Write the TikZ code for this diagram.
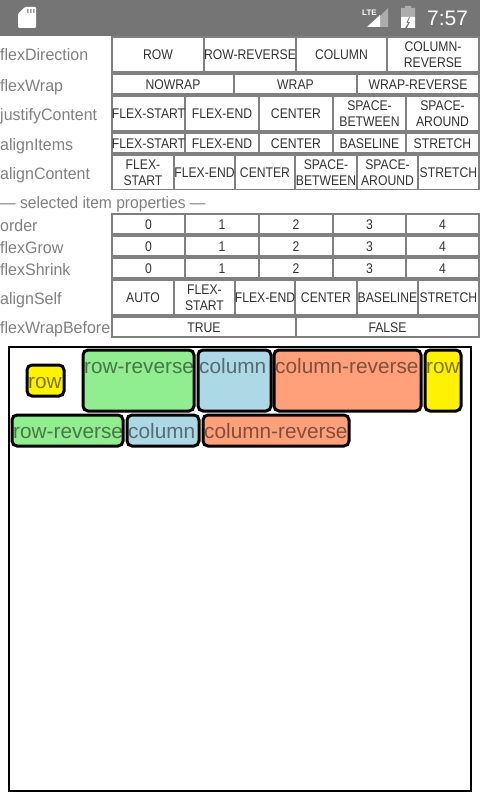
\documentclass[tikz,border=0pt]{standalone}
\usepackage{fontspec}
\setmainfont{Liberation Sans}
\newfontfamily\btnfont[FakeStretch=0.87]{Liberation Sans}
\newfontfamily\labfont[FakeStretch=0.97]{Liberation Sans}
\newfontfamily\selfont[FakeStretch=0.945]{Liberation Sans}
\definecolor{barc}{HTML}{757575}
\definecolor{gridc}{HTML}{808080}
\definecolor{labc}{HTML}{808080}
\definecolor{itemg}{HTML}{90EE90}
\definecolor{itemb}{HTML}{ADD8E6}
\definecolor{itemo}{HTML}{FFA07A}
\newcommand{\cellbox}[6]{%
  \pgfmathsetmacro{\cx}{(#3+#2)/2}\pgfmathsetmacro{\cy}{(#5+#4)/2}%
  \fill[white] (#2,#4) rectangle (#3,#5);
  \node[cellbtn] (#1) at (\cx,\cy) {#6};}
\newcommand{\flexitem}[7]{%
  \pgfmathsetmacro{\cw}{#3-#2}\pgfmathsetmacro{\ch}{#5-#4}%
  \pgfmathsetmacro{\cx}{(#3+#2)/2}\pgfmathsetmacro{\cy}{(#5+#4)/2}%
  \node[itembox,fill=#6,minimum width=\cw pt,minimum height=\ch pt] (#1) at (\cx,\cy) {};
  \node[itemtext] at (#2+1,#4+23) {#7};}
\tikzset{
  cellbtn/.style={inner sep=0pt,align=center,text=black!80,yshift=-0.6pt,
    font=\btnfont\fontsize{14}{16}\selectfont},
  rowlabel/.style={anchor=base west,inner sep=0pt,text=labc,font=\labfont\fontsize{16.5}{18}\selectfont},
  itembox/.style={draw=black,line width=3pt,rounded corners=5pt,inner sep=0pt,outer sep=0pt},
  itemtext/.style={anchor=base west,inner sep=0pt,text=black,text opacity=0.5,font=\fontsize{20.8}{22}\selectfont},
}
\begin{document}
\begin{tikzpicture}[x=1pt,y=-1pt]
\useasboundingbox (0,0) rectangle (480,800);
\fill[white] (0,0) rectangle (480,800);
% status bar
\fill[barc] (0,0) rectangle (480,36);
\fill[white,rounded corners=1pt] (18,28) -- (18,14) -- (25,7) -- (36,7) -- (36,28) -- cycle;
\fill[barc!70!white] (27,9) rectangle (28.5,13) (30,9) rectangle (31.5,13) (33,9) rectangle (34.5,13);
\node[anchor=base west,inner sep=0pt,text=white,font=\bfseries\fontsize{8}{8}\selectfont] at (362,16) {LTE};
\fill[white,opacity=0.4] (380,16) -- (388,8) -- (388,27) -- (380,27) -- cycle;
\fill[white] (367,27) -- (380,15) -- (380,27) -- cycle;
\fill[white,opacity=0.4] (401,8) -- (405,8) -- (405,6) -- (411,6) -- (411,8) -- (415,8) -- (415,17) -- (401,17) -- cycle;
\fill[white] (401,17) -- (409,17) -- (406,23) -- (408,23) -- (405,28) -- (401,28) -- cycle;
\fill[white] (410,17) -- (415,17) -- (415,28) -- (407,28) -- (410,22) -- (408,22) -- cycle;
\node[anchor=base west,inner sep=0pt,text=white,font=\fontsize{21}{24}\selectfont] at (427,25.5) {7:57};
% grids
\fill[gridc] (111,36) rectangle (480,190);
\fill[gridc] (111,213) rectangle (480,338);
% labels
\node[rowlabel] (lb1) at (0,61) {flexDirection};
\node[rowlabel] (lb2) at (0,91) {flexWrap};
\node[rowlabel] (lb3) at (0,120) {justifyContent};
\node[rowlabel] (lb4) at (0,150) {alignItems};
\node[rowlabel] (lb5) at (0,179) {alignContent};
\node[rowlabel,font=\selfont\fontsize{16.5}{18}\selectfont] (lb6) at (0,208) {— selected item properties —};
\node[rowlabel] (lb7) at (0,231) {order};
\node[rowlabel] (lb8) at (0,253) {flexGrow};
\node[rowlabel] (lb9) at (0,275) {flexShrink};
\node[rowlabel] (lb10) at (0,304) {alignSelf};
\node[rowlabel] (lb11) at (0,333) {flexWrapBefore};
% flexDirection
\cellbox{a1}{113}{203}{38}{71}{ROW}
\cellbox{a2}{205}{295}{38}{71}{ROW-REVERSE}
\cellbox{a3}{297}{386}{38}{71}{COLUMN}
\cellbox{a4}{388}{478}{38}{71}{COLUMN-\\REVERSE}
% flexWrap
\cellbox{b1}{113}{233}{75}{93}{NOWRAP}
\cellbox{b2}{235}{356}{75}{93}{WRAP}
\cellbox{b3}{358}{478}{75}{93}{WRAP-REVERSE}
% justifyContent
\cellbox{c1}{113}{184}{97}{130}{FLEX-START}
\cellbox{c2}{186}{258}{97}{130}{FLEX-END}
\cellbox{c3}{260}{332}{97}{130}{CENTER}
\cellbox{c4}{334}{405}{97}{130}{SPACE-\\BETWEEN}
\cellbox{c5}{407}{478}{97}{130}{SPACE-\\AROUND}
% alignItems
\cellbox{d1}{113}{184}{134}{152}{FLEX-START}
\cellbox{d2}{186}{258}{134}{152}{FLEX-END}
\cellbox{d3}{260}{332}{134}{152}{CENTER}
\cellbox{d4}{334}{405}{134}{152}{BASELINE}
\cellbox{d5}{407}{478}{134}{152}{STRETCH}
% alignContent
\cellbox{e1}{113}{173}{156}{189}{FLEX-\\START}
\cellbox{e2}{175}{234}{156}{189}{FLEX-END}
\cellbox{e3}{236}{294}{156}{189}{CENTER}
\cellbox{e4}{296}{356}{156}{189}{SPACE-\\BETWEEN}
\cellbox{e5}{358}{417}{156}{189}{SPACE-\\AROUND}
\cellbox{e6}{419}{478}{156}{189}{STRETCH}
% order
\cellbox{f1}{113}{184}{215}{233}{0}
\cellbox{f2}{186}{258}{215}{233}{1}
\cellbox{f3}{260}{332}{215}{233}{2}
\cellbox{f4}{334}{405}{215}{233}{3}
\cellbox{f5}{407}{478}{215}{233}{4}
% flexGrow
\cellbox{g1}{113}{184}{237}{255}{0}
\cellbox{g2}{186}{258}{237}{255}{1}
\cellbox{g3}{260}{332}{237}{255}{2}
\cellbox{g4}{334}{405}{237}{255}{3}
\cellbox{g5}{407}{478}{237}{255}{4}
% flexShrink
\cellbox{h1}{113}{184}{259}{277}{0}
\cellbox{h2}{186}{258}{259}{277}{1}
\cellbox{h3}{260}{332}{259}{277}{2}
\cellbox{h4}{334}{405}{259}{277}{3}
\cellbox{h5}{407}{478}{259}{277}{4}
% alignSelf
\cellbox{i1}{113}{173}{281}{314}{AUTO}
\cellbox{i2}{175}{234}{281}{314}{FLEX-\\START}
\cellbox{i3}{236}{294}{281}{314}{FLEX-END}
\cellbox{i4}{296}{356}{281}{314}{CENTER}
\cellbox{i5}{358}{417}{281}{314}{BASELINE}
\cellbox{i6}{419}{478}{281}{314}{STRETCH}
% flexWrapBefore
\cellbox{j1}{113}{295}{318}{336}{TRUE}
\cellbox{j2}{297}{478}{318}{336}{FALSE}
% container
\draw[black,line width=2pt] (9,347) rectangle (471,791);
% items
\flexitem{m1}{27}{64}{365}{396}{yellow}{row}
\flexitem{m2}{83}{194}{350}{411}{itemg}{row-reverse}
\flexitem{m3}{198}{271}{350}{411}{itemb}{column}
\flexitem{m4}{274}{421}{350}{411}{itemo}{column-reverse}
\flexitem{m5}{425}{461}{350}{411}{yellow}{row}
\flexitem{m6}{12}{123}{415}{446}{itemg}{row-reverse}
\flexitem{m7}{127}{199}{415}{446}{itemb}{column}
\flexitem{m8}{203}{349}{415}{446}{itemo}{column-reverse}
\end{tikzpicture}
\end{document}
